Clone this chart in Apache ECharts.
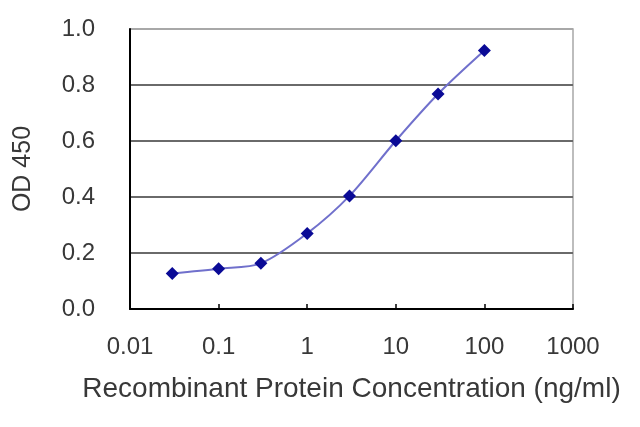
<!DOCTYPE html>
<html>
<head>
<meta charset="utf-8">
<script src="https://cdn.jsdelivr.net/npm/echarts@6/dist/echarts.min.js"></script>
<style>
html,body{margin:0;padding:0;background:#fff;}
#chart{width:640px;height:427px;}
</style>
</head>
<body>
<div id="chart"></div>
<script>
// Data
const concentrations = [0.03, 0.1, 0.3, 1, 3, 10, 30, 100];
const odValues = [0.127, 0.144, 0.163, 0.270, 0.404, 0.601, 0.768, 0.923];
const xTickLabels = ['0.01', '0.1', '1', '10', '100', '1000'];
const yTickLabels = ['0.0', '0.2', '0.4', '0.6', '0.8', '1.0'];
const xAxisTitle = 'Recombinant Protein Concentration (ng/ml)';
const yAxisTitle = 'OD 450';

const points = concentrations.map((c, i) => [c, odValues[i]]);
const font = '"Liberation Sans", Arial, sans-serif';

const chart = echarts.init(document.getElementById('chart'), null, {renderer: 'canvas'});
chart.setOption({
  animation: false,
  backgroundColor: '#fff',
  grid: {
    left: 130, right: 67, top: 29, bottom: 118,
    show: true, borderColor: '#a8a8a8', borderWidth: 1.5, backgroundColor: 'transparent'
  },
  xAxis: {
    type: 'log', logBase: 10, min: 0.01, max: 1000,
    name: xAxisTitle, nameLocation: 'middle', nameGap: 66,
    nameTextStyle: {fontFamily: font, fontSize: 28, color: '#383838'},
    axisLine: {show: true, lineStyle: {color: '#000', width: 2}},
    axisTick: {show: true, inside: true, length: 5, lineStyle: {color: '#000', width: 1.5}},
    minorTick: {show: false},
    splitLine: {show: false},
    axisLabel: {
      fontFamily: font, fontSize: 24, color: '#383838', margin: 26,
      formatter: function (v) {
        const idx = Math.round(Math.log10(v) + 2);
        return xTickLabels[idx] !== undefined ? xTickLabels[idx] : '';
      }
    }
  },
  yAxis: {
    type: 'value', min: 0, max: 1, interval: 0.2,
    name: yAxisTitle, nameLocation: 'middle', nameGap: 94, nameRotate: 90,
    nameTextStyle: {fontFamily: font, fontSize: 25, color: '#383838'},
    axisLine: {show: true, lineStyle: {color: '#000', width: 2}},
    axisTick: {show: false},
    splitLine: {show: true, lineStyle: {color: ['#000', '#6a6a6a', '#6a6a6a', '#6a6a6a', '#6a6a6a', '#a8a8a8'], width: 2}},
    axisLabel: {
      fontFamily: font, fontSize: 24, color: '#383838', margin: 35,
      formatter: function (v) {
        const idx = Math.round(v / 0.2);
        return yTickLabels[idx] !== undefined ? yTickLabels[idx] : '';
      }
    }
  },
  series: [{
    type: 'line',
    data: points,
    smooth: 0.3,
    symbol: 'diamond',
    symbolSize: 13,
    itemStyle: {color: '#0a0a96'},
    lineStyle: {color: '#7070cc', width: 2}
  }]
});
</script>
</body>
</html>
